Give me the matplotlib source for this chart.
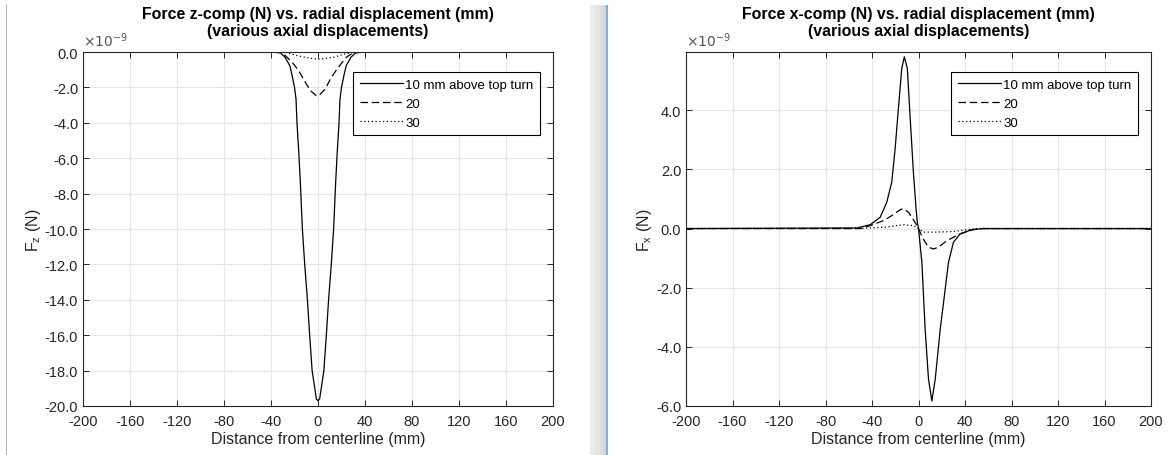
import matplotlib
matplotlib.use("Agg")
import matplotlib.pyplot as plt
import numpy as np
from matplotlib.lines import Line2D
from matplotlib.patches import Rectangle
from matplotlib.ticker import FormatStrFormatter

plt.rcParams["font.family"] = ["Liberation Sans", "DejaVu Sans"]
plt.rcParams["axes.unicode_minus"] = False

# force values, in units of 1e-9 N
labels = ["10 mm above top turn", "20", "30"]
styles = ["-", (0, (6, 3)), (0, (1, 2))]

# z-component
fz_x10 = [-200, -39, -32, -28, -24, -22, -20, -18.7, -17.9, -16.5, -15, -13.3, -11.3, -9, -7.1, -5, -1.4, 0,
          1.4, 5, 7.1, 9, 11.3, 13.3, 15, 16.5, 17.9, 18.7, 20, 22, 24, 28, 32, 39, 200]
fz_y10 = [0, 0, -0.05, -0.3, -0.77, -1.34, -2.0, -2.66, -4.0, -5.5, -7.4, -10, -12, -14, -16, -18, -19.6, -19.7,
          -19.6, -18, -16, -14, -12, -10, -7.4, -5.5, -4.0, -2.66, -2.0, -1.34, -0.77, -0.3, -0.05, 0, 0]
fz_x20 = [-200, -31, -22, -16.5, -10.8, -6.5, -1.4, 0.6, 6.2, 10.5, 16.2, 24, 31, 200]
fz_y20 = [0, 0, -0.58, -1.05, -1.71, -2.18, -2.47, -2.47, -2.09, -1.53, -0.96, -0.3, 0, 0]
fz_x30 = [-200, -28, -18, -6.5, 2, 13.3, 22, 32, 200]
fz_y30 = [0, 0, -0.2, -0.36, -0.4, -0.3, -0.12, 0, 0]

# x-component
fx_x10 = [-200, -53, -41.5, -33, -27.3, -23, -20.1, -17.3, -14.4, -12.2, -9.6, -7.3, -4.4, -2.1, -1, 0,
          2.9, 5.7, 8.6, 11.5, 14.4, 18.7, 23, 25.8, 30.1, 35.8, 45, 55, 200]
fx_y10 = [0, 0.02, 0.13, 0.38, 0.89, 1.57, 2.7, 4.06, 5.41, 5.81, 5.41, 3.83, 1.91, 0.67, 0.2, 0,
          -1.14, -3.4, -5.09, -5.83, -5.09, -3.4, -2.04, -1.14, -0.46, -0.18, -0.05, 0, 0]
fx_x20 = [-200, -50, -41.5, -30, -22.9, -15.7, -12.9, -8.6, -2.8, 0, 4, 8.6, 12.9, 17.2, 24.4, 35.8, 47.3, 55, 200]
fx_y20 = [0, 0, 0.1, 0.27, 0.44, 0.64, 0.67, 0.55, 0.2, 0, -0.35, -0.63, -0.69, -0.63, -0.41, -0.18, -0.03, 0, 0]
fx_x30 = [-200, -47, -27.2, -12.9, -4.3, 0, 4.3, 15.8, 30, 41.5, 50, 200]
fx_y30 = [0, 0.01, 0.05, 0.13, 0.1, 0, -0.12, -0.12, -0.1, -0.04, 0, 0]

xticks = np.arange(-200, 201, 40)

fig = plt.figure(figsize=(11.7, 4.56), dpi=100)

# screenshot window edges
fig.add_artist(Rectangle((6 / 1170, 0), 1.2 / 1170, 1 - 5 / 456, transform=fig.transFigure, color="#b8b8b8", lw=0))
for i, c in enumerate(["#ececec", "#e8e8e8", "#e4e4e4", "#dedede", "#d6d6d6"]):
    fig.add_artist(Rectangle(((590 + i * 3.2) / 1170, 0), 3.2 / 1170, 1 - 6 / 456,
                             transform=fig.transFigure, color=c, lw=0))
fig.add_artist(Rectangle((606 / 1170, 0), 2 / 1170, 1 - 6 / 456, transform=fig.transFigure, color="#7ab2de", lw=0))

grey = "#262626"


def style_axes(ax, ylim, yticks, title, ylabel):
    ax.set_xlim(-200, 200)
    ax.set_ylim(*ylim)
    ax.set_xticks(xticks)
    ax.set_yticks(yticks)
    ax.yaxis.set_major_formatter(FormatStrFormatter("%.1f"))
    ax.grid(True, color="#e6e6e6", lw=0.8)
    ax.set_axisbelow(True)
    ax.tick_params(direction="in", top=True, right=True, length=4, width=0.7, colors=grey, labelsize=10.5)
    ax.tick_params(axis="x", pad=6)
    for s in ax.spines.values():
        s.set_color(grey)
        s.set_linewidth(0.8)
    ax.set_xlabel("Distance from centerline (mm)", fontsize=11.5, color=grey, labelpad=2)
    ax.set_ylabel(ylabel, fontsize=11.5, color=grey, labelpad=1)
    ax.set_title(title, fontsize=11.4, fontweight="bold", color="black", pad=12, linespacing=1.2)
    ax.text(0.0, 1.008, r"$\times10^{-9}$", transform=ax.transAxes, fontsize=10, color="#555555",
            ha="left", va="bottom")


def add_legend(ax):
    handles = [Line2D([], [], color="black", lw=0.9, ls=s) for s in styles]
    leg = ax.legend(handles, labels, loc="upper right", fontsize=9.5, frameon=True, fancybox=False,
                    edgecolor="black", framealpha=1, handlelength=3.3, handletextpad=0.15,
                    borderpad=0.5, labelspacing=0.5, borderaxespad=0,
                    bbox_to_anchor=(1 - 13 / 470, 1 - 20 / 354))
    leg.get_frame().set_linewidth(0.8)


ax1 = fig.add_axes([83 / 1170, 1 - 407 / 456, 470 / 1170, 354 / 456])
ax1.plot(fz_x10, fz_y10, color="black", lw=0.9, ls=styles[0])
ax1.plot(fz_x20, fz_y20, color="black", lw=0.9, ls=styles[1])
ax1.plot(fz_x30, fz_y30, color="black", lw=0.9, ls=styles[2])
style_axes(ax1, (-20, 0), np.arange(-20, 0.1, 2),
           "Force z-comp (N) vs. radial displacement (mm)\n(various axial displacements)", r"F$_\mathregular{z}$ (N)")
add_legend(ax1)

ax2 = fig.add_axes([686 / 1170, 1 - 407 / 456, 465 / 1170, 354 / 456])
ax2.plot(fx_x10, fx_y10, color="black", lw=0.9, ls=styles[0])
ax2.plot(fx_x20, fx_y20, color="black", lw=0.9, ls=styles[1])
ax2.plot(fx_x30, fx_y30, color="black", lw=0.9, ls=styles[2])
style_axes(ax2, (-6, 5.97), np.arange(-6, 4.1, 2),
           "Force x-comp (N) vs. radial displacement (mm)\n(various axial displacements)", r"F$_\mathregular{x}$ (N)")
add_legend(ax2)

fig.savefig("out.png", dpi=100)
